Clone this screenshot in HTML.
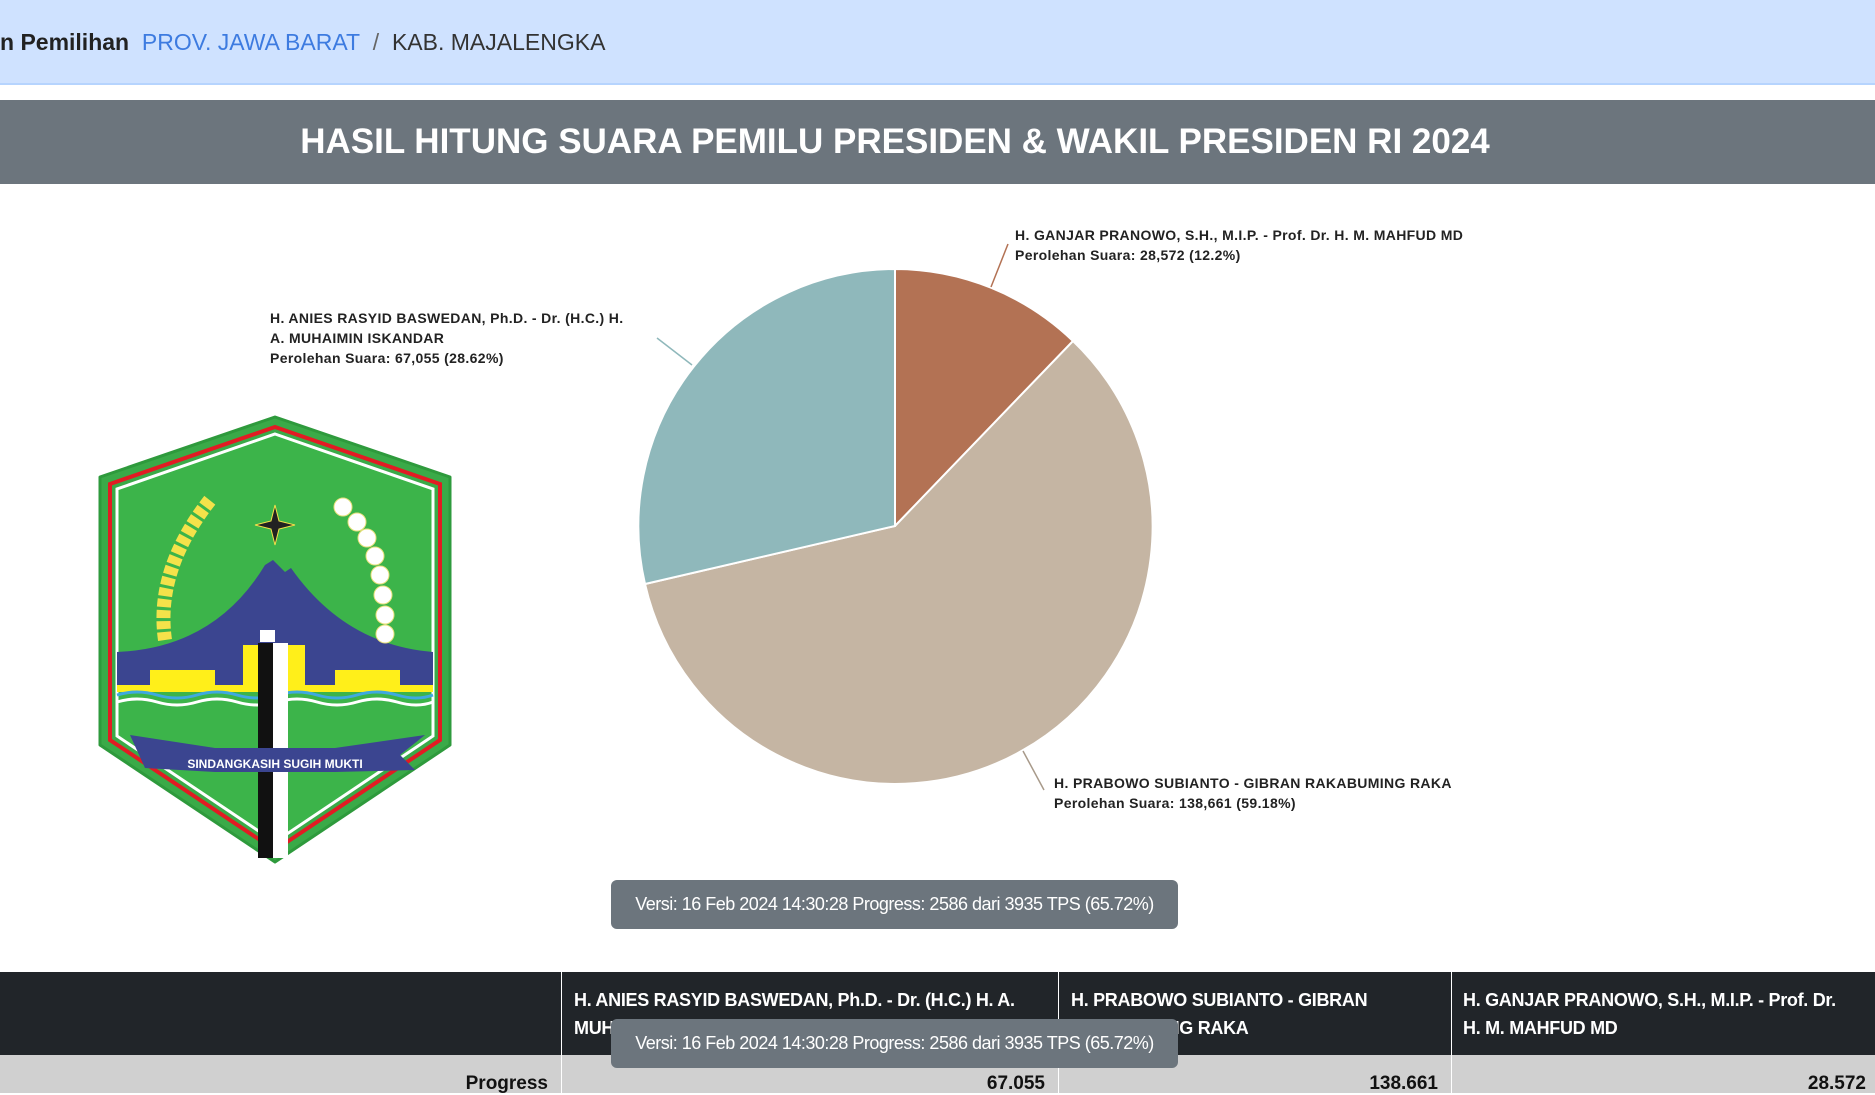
<!DOCTYPE html>
<html><head><meta charset="utf-8"><style>
*{margin:0;padding:0;box-sizing:border-box}
body{width:1875px;height:1093px;overflow:hidden;background:#fff;font-family:"Liberation Sans",sans-serif;position:relative}
.a{position:absolute;white-space:nowrap}
.hdr{left:0;top:0;width:1875px;height:85px;background:#cfe2ff;border-bottom:2px solid #b6d4fe}
.bar{left:0;top:100px;width:1875px;height:84px;background:#6c757d}
.ttl{left:0;top:100px;width:1790px;color:#fff;font-weight:bold;font-size:35px;text-align:center;line-height:84px;letter-spacing:0px}
.tip{background:#6c757d;color:#fff;border-radius:6px;font-size:18px;text-align:center;width:567px;height:49px;line-height:49px;letter-spacing:-0.5px}
.th{top:972px;height:83px;background:#212529}
.tr{top:1055px;height:38px;background:#d0d0d0}
.ht{color:#fff;font-weight:bold;font-size:18px;line-height:28px;white-space:normal;letter-spacing:-0.3px}
.v{font-size:19px;color:#111;text-align:right;top:1073px;font-weight:bold}
.lab{font-size:14px;font-weight:bold;color:#222;line-height:20px;letter-spacing:0.35px}
</style></head><body>
<div class="a hdr"></div>
<div class="a" style="left:0;top:28px;font-size:23px;line-height:28px"><b style="color:#222">n Pemilihan</b>&nbsp; <span style="color:#3d7be0">PROV. JAWA BARAT</span>&nbsp; <span style="color:#666">/</span>&nbsp; <span style="color:#333">KAB. MAJALENGKA</span></div>
<div class="a bar"></div>
<div class="a ttl">HASIL HITUNG SUARA PEMILU PRESIDEN &amp; WAKIL PRESIDEN RI 2024</div>

<svg class="a" style="left:0;top:184px" width="1875" height="700" viewBox="0 184 1875 700">
<path d="M895,526 L895,269 A257,257 0 0 1 1073,341 Z" fill="#b37254" stroke="#fff" stroke-width="2"/>
<path d="M895,526 L1073,341 A257,257 0 1 1 645,584 Z" fill="#c5b5a3" stroke="#fff" stroke-width="2"/>
<path d="M895,526 L645,584 A257,257 0 0 1 895,269 Z" fill="#8fb8bb" stroke="#fff" stroke-width="2"/>
<line x1="991" y1="287" x2="1008" y2="244" stroke="#b37254" stroke-width="1.5"/>
<line x1="692" y1="365" x2="657" y2="338" stroke="#8fb8bb" stroke-width="1.5"/>
<line x1="1023" y1="751" x2="1044" y2="790" stroke="#a89a8a" stroke-width="1.5"/>
</svg>
<div class="a lab" style="left:1015px;top:225px">H. GANJAR PRANOWO, S.H., M.I.P. - Prof. Dr. H. M. MAHFUD MD<br>Perolehan Suara: 28,572 (12.2%)</div>
<div class="a lab" style="left:270px;top:308px">H. ANIES RASYID BASWEDAN, Ph.D. - Dr. (H.C.) H.<br>A. MUHAIMIN ISKANDAR<br>Perolehan Suara: 67,055 (28.62%)</div>
<div class="a lab" style="left:1054px;top:773px">H. PRABOWO SUBIANTO - GIBRAN RAKABUMING RAKA<br>Perolehan Suara: 138,661 (59.18%)</div>

<svg class="a" style="left:95px;top:410px" width="360" height="460" viewBox="0 0 360 460">
<path d="M180,7 L355,67 L355,335 L180,452 L5,335 L5,67 Z" fill="#3aaa48" stroke="#2e9a3c" stroke-width="3" stroke-linejoin="round"/>
<path d="M180,17 L345,74 L345,330 L180,440 L15,330 L15,74 Z" fill="none" stroke="#e21b23" stroke-width="4"/>
<path d="M180,24 L338,79 L338,326 L180,432 L22,326 L22,79 Z" fill="#3cb44a" stroke="#fff" stroke-width="3"/>
<path d="M22,242 Q120,238 170,155 L178,150 L190,162 L196,158 Q250,235 338,242 L338,275 L22,275 Z" fill="#3b4590"/>
<path d="M55,260 H120 V275 H148 V235 H210 V275 H240 V260 H305 V275 H338 V282 H22 V275 H55 Z" fill="#ffef1a"/>
<path d="M22,285 q20,-6 40,0 t40,0 t40,0 t40,0 t40,0 t40,0 t40,0 t36,0" fill="none" stroke="#3fa9e0" stroke-width="3"/>
<path d="M22,292 q20,-6 40,0 t40,0 t40,0 t40,0 t40,0 t40,0 t40,0 t36,0" fill="none" stroke="#fff" stroke-width="3"/>
<rect x="163" y="233" width="15" height="215" fill="#111"/>
<rect x="178" y="233" width="15" height="215" fill="#fff"/>
<rect x="165" y="220" width="15" height="12" fill="#fff"/>
<path d="M35,325 L120,338 L240,338 L330,325 L305,345 L320,360 L240,362 L120,362 L50,358 Z" fill="#3b4590"/>
<text x="180" y="358" font-size="12" fill="#fff" text-anchor="middle" font-family="Liberation Sans" font-weight="bold">SINDANGKASIH SUGIH MUKTI</text>
<path d="M70,230 Q60,160 115,90" fill="none" stroke="#f4e24a" stroke-width="14" stroke-dasharray="8 3"/>
<g fill="#fff" stroke="#e7e07a"><circle cx="248" cy="97" r="9"/><circle cx="262" cy="112" r="9"/><circle cx="272" cy="128" r="9"/><circle cx="280" cy="146" r="9"/><circle cx="285" cy="165" r="9"/><circle cx="288" cy="185" r="9"/><circle cx="290" cy="205" r="9"/><circle cx="290" cy="224" r="9"/></g>
<path d="M180,95 L184,111 L200,115 L184,119 L180,135 L176,119 L160,115 L176,111 Z" fill="#222" stroke="#f4e24a" stroke-width="1"/>
</svg>

<div class="a tip" style="left:611px;top:880px">Versi: 16 Feb 2024 14:30:28 Progress: 2586 dari 3935 TPS (65.72%)</div>

<div class="a th" style="left:0;width:561px"></div>
<div class="a th" style="left:562px;width:496px"></div>
<div class="a th" style="left:1059px;width:392px"></div>
<div class="a th" style="left:1452px;width:423px"></div>
<div class="a ht" style="left:574px;top:986px;width:480px">H. ANIES RASYID BASWEDAN, Ph.D. - Dr. (H.C.) H. A. MUHAIMIN ISKANDAR</div>
<div class="a ht" style="left:1071px;top:986px;width:370px">H. PRABOWO SUBIANTO - GIBRAN RAKABUMING RAKA</div>
<div class="a ht" style="left:1463px;top:986px;width:400px">H. GANJAR PRANOWO, S.H., M.I.P. - Prof. Dr.<br>H. M. MAHFUD MD</div>
<div class="a tr" style="left:0;width:561px"></div>
<div class="a tr" style="left:562px;width:496px"></div>
<div class="a tr" style="left:1059px;width:392px"></div>
<div class="a tr" style="left:1452px;width:423px"></div>
<div class="a v" style="left:0;width:548px">Progress</div>
<div class="a v" style="left:562px;width:483px">67.055</div>
<div class="a v" style="left:1059px;width:379px">138.661</div>
<div class="a v" style="left:1452px;width:414px">28.572</div>

<div class="a tip" style="left:611px;top:1019px">Versi: 16 Feb 2024 14:30:28 Progress: 2586 dari 3935 TPS (65.72%)</div>
</body></html>
